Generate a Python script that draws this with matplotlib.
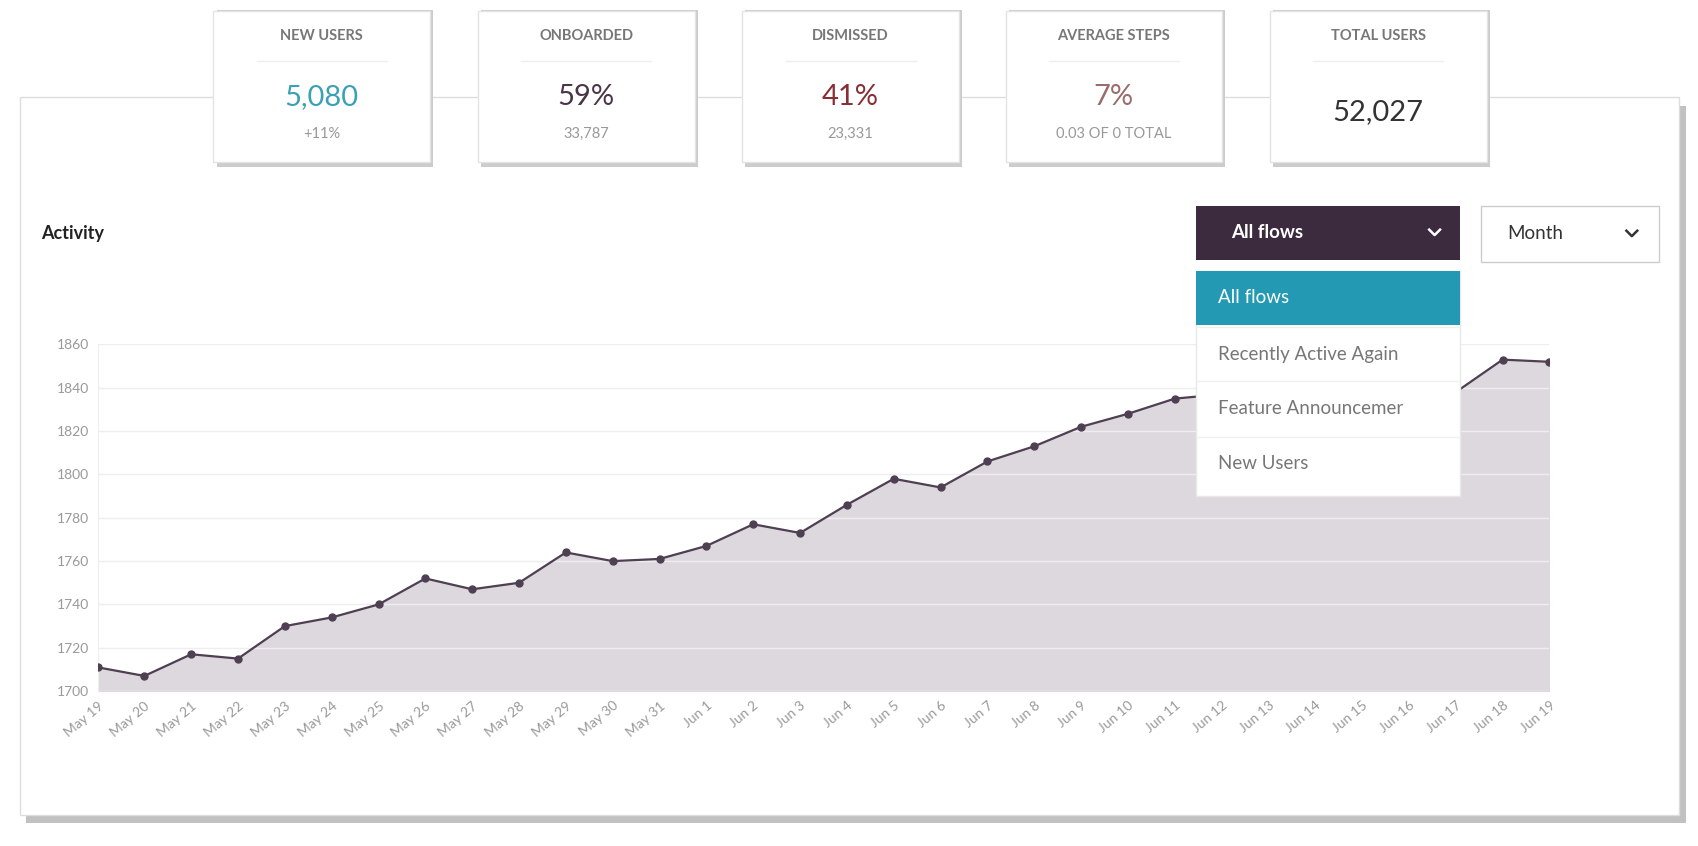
import matplotlib.pyplot as plt
from matplotlib.patches import Rectangle

# activity series, May 19 .. Jun 19
dates = ["May 19", "May 20", "May 21", "May 22", "May 23", "May 24", "May 25", "May 26",
         "May 27", "May 28", "May 29", "May 30", "May 31", "Jun 1", "Jun 2", "Jun 3",
         "Jun 4", "Jun 5", "Jun 6", "Jun 7", "Jun 8", "Jun 9", "Jun 10", "Jun 11",
         "Jun 12", "Jun 13", "Jun 14", "Jun 15", "Jun 16", "Jun 17", "Jun 18", "Jun 19"]
values = [1711, 1707, 1717, 1715, 1730, 1734, 1740, 1752, 1747, 1750, 1764, 1760, 1761,
          1767, 1777, 1773, 1786, 1798, 1794, 1806, 1813, 1822, 1828, 1835, 1837, 1841,
          1839, 1844, 1846, 1838, 1853, 1852]
y_ticks = [1700, 1720, 1740, 1760, 1780, 1800, 1820, 1840, 1860]

stat_titles = ["NEW USERS", "ONBOARDED", "DISMISSED", "AVERAGE STEPS", "TOTAL USERS"]
stat_values = ["5,080", "59%", "41%", "7%", "52,027"]
stat_subs = ["+11%", "33,787", "23,331", "0.03 OF 0 TOTAL", ""]
stat_colors = ["#3aa0b5", "#4a3548", "#8a2e35", "#9a6c6c", "#333333"]
menu_items = ["All flows", "Recently Active Again", "Feature Announcemer", "New Users"]

W, H = 1568, 781
FONT = "Lato"


def fx(x):
    return x / W


def fy(y):
    return 1 - y / H


def chevron(x, y, color):
    fig.lines.append(plt.Line2D([fx(x - 5), fx(x), fx(x + 5)], [fy(y - 3), fy(y + 2), fy(y - 3)],
                                transform=fig.transFigure, color=color, lw=1.8, zorder=7))


fig = plt.figure(figsize=(16.99, 8.46), dpi=100)
fig.patch.set_facecolor("white")

# main card with shadow
fig.patches.append(Rectangle((fx(24), fy(760)), fx(1532), (752 - 90) / H,
                             transform=fig.transFigure, facecolor="#999999", alpha=0.6, zorder=0))
fig.patches.append(Rectangle((fx(18), fy(752)), fx(1532), (752 - 90) / H,
                             transform=fig.transFigure, facecolor="white", edgecolor="#dddddd", zorder=1))

# stat boxes
box_x = [197, 441, 685, 928, 1172]
for i, x0 in enumerate(box_x):
    fig.patches.append(Rectangle((fx(x0 + 3), fy(154)), 200 / W, 145 / H, transform=fig.transFigure,
                                 facecolor="#cccccc", zorder=2))
    fig.patches.append(Rectangle((fx(x0), fy(150)), 200 / W, 140 / H, transform=fig.transFigure,
                                 facecolor="white", edgecolor="#e4e4e4", zorder=3))
    cx = fx(x0 + 100)
    fig.text(cx, fy(33), stat_titles[i], ha="center", va="center", fontsize=10.5,
             color="#777777", fontweight="bold", family=FONT, zorder=4)
    fig.lines.append(plt.Line2D([fx(x0 + 40), fx(x0 + 160)], [fy(56), fy(56)],
                                transform=fig.transFigure, color="#eeeeee", lw=1, zorder=4))
    if stat_subs[i]:
        fig.text(cx, fy(90), stat_values[i], ha="center", va="center", fontsize=21,
                 color=stat_colors[i], family=FONT, zorder=4)
        fig.text(cx, fy(124), stat_subs[i], ha="center", va="center", fontsize=10.5,
                 color="#999999", family=FONT, zorder=4)
    else:
        fig.text(cx, fy(103), stat_values[i], ha="center", va="center", fontsize=21,
                 color=stat_colors[i], family=FONT, zorder=4)

fig.text(fx(38), fy(216), "Activity", ha="left", va="center", fontsize=13,
         fontweight="bold", color="#222222", family=FONT, zorder=4)

# chart
ax = fig.add_axes([fx(90), fy(638), fx(1430) - fx(90), (638 - 318) / H], zorder=5)
ax.set_facecolor("none")
xs = list(range(len(values)))
ax.fill_between(xs, values, 1700, color="#ddd8de", zorder=1)
ax.plot(xs, values, color="#4e3f52", lw=1.6, marker="o", ms=5, zorder=3)
ax.set_xlim(0, len(values) - 1)
ax.set_ylim(1700, 1860)
ax.set_yticks(y_ticks)
ax.set_yticklabels([str(v) for v in y_ticks], fontsize=10, color="#999999", family=FONT)
ax.set_xticks(xs)
ax.set_xticklabels(dates, rotation=40, ha="right", rotation_mode="anchor",
                   fontsize=10, color="#999999", family=FONT)
ax.grid(axis="y", color="#eeeeee", lw=1, zorder=0)
for s in ["top", "right", "bottom"]:
    ax.spines[s].set_visible(False)
ax.spines["left"].set_color("#eeeeee")
ax.tick_params(length=0, pad=6)

# dropdowns
fig.patches.append(Rectangle((fx(1104), fy(240)), 243 / W, 50 / H, transform=fig.transFigure,
                             facecolor="#3c2a3e", zorder=6))
fig.text(fx(1136), fy(215), "All flows", ha="left", va="center", fontsize=13.5,
         color="white", fontweight="bold", family=FONT, zorder=7)
chevron(1324, 215, "white")
fig.patches.append(Rectangle((fx(1367), fy(242)), 164 / W, 52 / H, transform=fig.transFigure,
                             facecolor="white", edgecolor="#cccccc", zorder=6))
fig.text(fx(1391), fy(216), "Month", ha="left", va="center", fontsize=13.5,
         color="#333333", family=FONT, zorder=7)
chevron(1506, 216, "#333333")

fig.patches.append(Rectangle((fx(1104), fy(458)), 243 / W, 208 / H, transform=fig.transFigure,
                             facecolor="white", edgecolor="#e8e8e8", zorder=8))
fig.patches.append(Rectangle((fx(1104), fy(300)), 243 / W, 50 / H, transform=fig.transFigure,
                             facecolor="#2399b3", zorder=9))
item_y = [275, 327, 377, 428]
for i, label in enumerate(menu_items):
    fig.text(fx(1124), fy(item_y[i]), label, ha="left", va="center", fontsize=13.5,
             color="white" if i == 0 else "#777777", family=FONT, zorder=10)
    if i > 0:
        fig.lines.append(plt.Line2D([fx(1104), fx(1347)], [fy(item_y[i] - 25)] * 2,
                                    transform=fig.transFigure, color="#f0f0f0", lw=1, zorder=9))

fig.savefig("out.png", dpi=100)
